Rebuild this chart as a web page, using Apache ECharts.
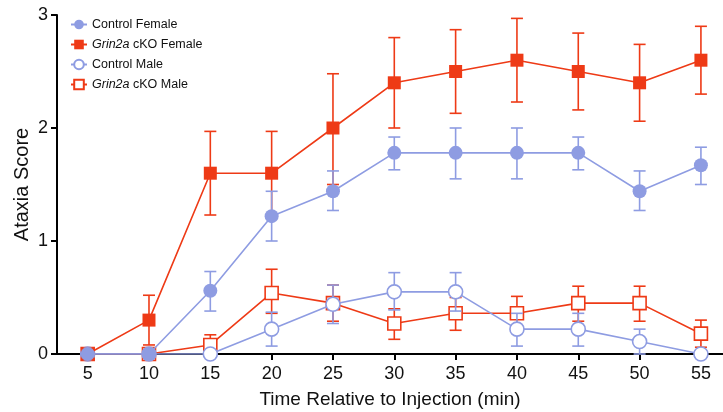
<!DOCTYPE html>
<html>
<head>
<meta charset="utf-8">
<script src="https://cdn.jsdelivr.net/npm/echarts@6/dist/echarts.min.js"></script>
<style>
  html, body { margin: 0; padding: 0; background: #fff; }
  #chart { width: 723px; height: 412px; }
</style>
</head>
<body>
<div id="chart"></div>
<script>
// time points (min)
var times = [5, 10, 15, 20, 25, 30, 35, 40, 45, 50, 55];

// Control Female
var ctrlF = [0, 0, 0.56, 1.22, 1.44, 1.78, 1.78, 1.78, 1.78, 1.44, 1.67];
var ctrlFLow = [0, 0, 0.38, 1.0, 1.27, 1.63, 1.55, 1.55, 1.63, 1.27, 1.5];
var ctrlFHigh = [0, 0, 0.73, 1.44, 1.62, 1.92, 2.0, 2.0, 1.92, 1.62, 1.83];

// Grin2a cKO Female
var ckoF = [0, 0.3, 1.6, 1.6, 2.0, 2.4, 2.5, 2.6, 2.5, 2.4, 2.6];
var ckoFLow = [0, 0.08, 1.23, 1.23, 1.5, 2.0, 2.13, 2.23, 2.16, 2.06, 2.3];
var ckoFHigh = [0, 0.52, 1.97, 1.97, 2.48, 2.8, 2.87, 2.97, 2.84, 2.74, 2.9];

// Control Male
var ctrlM = [0, 0, 0, 0.22, 0.44, 0.55, 0.55, 0.22, 0.22, 0.11, 0];
var ctrlMLow = [0, 0, 0, 0.07, 0.27, 0.39, 0.38, 0.07, 0.07, 0, 0];
var ctrlMHigh = [0, 0, 0, 0.37, 0.61, 0.72, 0.72, 0.36, 0.36, 0.22, 0];

// Grin2a cKO Male
var ckoM = [0, 0, 0.08, 0.54, 0.45, 0.27, 0.36, 0.36, 0.45, 0.45, 0.18];
var ckoMLow = [0, 0, 0, 0.36, 0.29, 0.13, 0.21, 0.21, 0.29, 0.29, 0.06];
var ckoMHigh = [0, 0, 0.17, 0.75, 0.61, 0.40, 0.5, 0.51, 0.6, 0.6, 0.3];

var xTicks = [5, 10, 15, 20, 25, 30, 35, 40, 45, 50, 55];
var yTicks = [0, 1, 2, 3];

var BLUE = '#8e9ce2';
var RED = '#ee3a16';
var FONT = 'Liberation Sans';

function pairs(ys) {
  return times.map(function (t, i) { return [t, ys[i]]; });
}

function errData(lo, hi) {
  return times.map(function (t, i) { return [t, lo[i], hi[i]]; });
}

// error bar with caps
function errSeries(name, data, color, z) {
  return {
    name: name,
    type: 'custom',
    z: z,
    silent: true,
    data: data,
    renderItem: function (params, api) {
      var lo = api.value(1), hi = api.value(2);
      if (hi - lo < 1e-6) return null;
      var top = api.coord([api.value(0), hi]);
      var bot = api.coord([api.value(0), lo]);
      var w = 6;
      var st = { stroke: color, lineWidth: 1.6 };
      return {
        type: 'group',
        children: [
          { type: 'line', shape: { x1: top[0], y1: top[1], x2: bot[0], y2: bot[1] }, style: st },
          { type: 'line', shape: { x1: top[0] - w, y1: top[1], x2: top[0] + w, y2: top[1] }, style: st },
          { type: 'line', shape: { x1: bot[0] - w, y1: bot[1], x2: bot[0] + w, y2: bot[1] }, style: st }
        ]
      };
    }
  };
}

function lineSeries(name, data, color, symbol, size, filled, z) {
  return {
    name: name,
    type: 'line',
    z: z,
    data: data,
    symbol: symbol,
    symbolSize: size,
    showAllSymbol: true,
    lineStyle: { color: color, width: 1.6 },
    itemStyle: { color: filled ? color : '#ffffff', borderColor: color, borderWidth: filled ? 0 : 1.6 },
    emphasis: { disabled: true }
  };
}

var chart = echarts.init(document.getElementById('chart'));

chart.setOption({
  animation: false,
  textStyle: { fontFamily: FONT },
  grid: { left: 57, right: 0, top: 15, bottom: 58, containLabel: false, outerBoundsMode: 'none' },
  legend: {
    left: 70,
    top: 18,
    padding: 0,
    orient: 'vertical',
    itemWidth: 16,
    itemHeight: 12,
    itemGap: 7,
    data: ['Control Female', 'Grin2a cKO Female', 'Control Male', 'Grin2a cKO Male'],
    formatter: function (n) {
      return n.indexOf('Grin2a') === 0 ? '{i|Grin2a}' + n.slice(6) : n;
    },
    textStyle: {
      fontFamily: FONT,
      fontSize: 12.5,
      color: '#111',
      rich: { i: { fontFamily: FONT, fontSize: 12.5, fontStyle: 'italic', color: '#111' } }
    }
  },
  xAxis: {
    type: 'value',
    min: 2.5,
    max: 56.8,
    name: 'Time Relative to Injection (min)',
    nameLocation: 'middle',
    nameGap: 36,
    nameMoveOverlap: false,
    nameTextStyle: { fontFamily: FONT, fontSize: 19, color: '#111' },
    axisLine: { onZero: false, lineStyle: { color: '#000', width: 2 } },
    axisTick: { show: true, length: 6, lineStyle: { color: '#000', width: 2 }, customValues: xTicks },
    axisLabel: { fontFamily: FONT, fontSize: 18, color: '#111', margin: 11, customValues: xTicks },
    splitLine: { show: false }
  },
  yAxis: {
    type: 'value',
    min: 0,
    max: 3,
    interval: 1,
    name: 'Ataxia Score',
    nameLocation: 'middle',
    nameGap: 25,
    nameMoveOverlap: false,
    nameTextStyle: { fontFamily: FONT, fontSize: 20, color: '#111' },
    axisLine: { show: true, lineStyle: { color: '#000', width: 2 } },
    axisTick: { show: true, length: 6, lineStyle: { color: '#000', width: 2 }, customValues: yTicks },
    axisLabel: { fontFamily: FONT, fontSize: 18, color: '#111', margin: 9, customValues: yTicks },
    splitLine: { show: false }
  },
  series: [
    errSeries('cko m err', errData(ckoMLow, ckoMHigh), RED, 1),
    lineSeries('Grin2a cKO Male', pairs(ckoM), RED, 'rect', 13, false, 2),
    errSeries('ctrl m err', errData(ctrlMLow, ctrlMHigh), BLUE, 3),
    lineSeries('Control Male', pairs(ctrlM), BLUE, 'circle', 14, false, 4),
    errSeries('cko f err', errData(ckoFLow, ckoFHigh), RED, 5),
    lineSeries('Grin2a cKO Female', pairs(ckoF), RED, 'rect', 13, true, 6),
    errSeries('ctrl f err', errData(ctrlFLow, ctrlFHigh), BLUE, 7),
    lineSeries('Control Female', pairs(ctrlF), BLUE, 'circle', 14, true, 8)
  ]
});
</script>
</body>
</html>
